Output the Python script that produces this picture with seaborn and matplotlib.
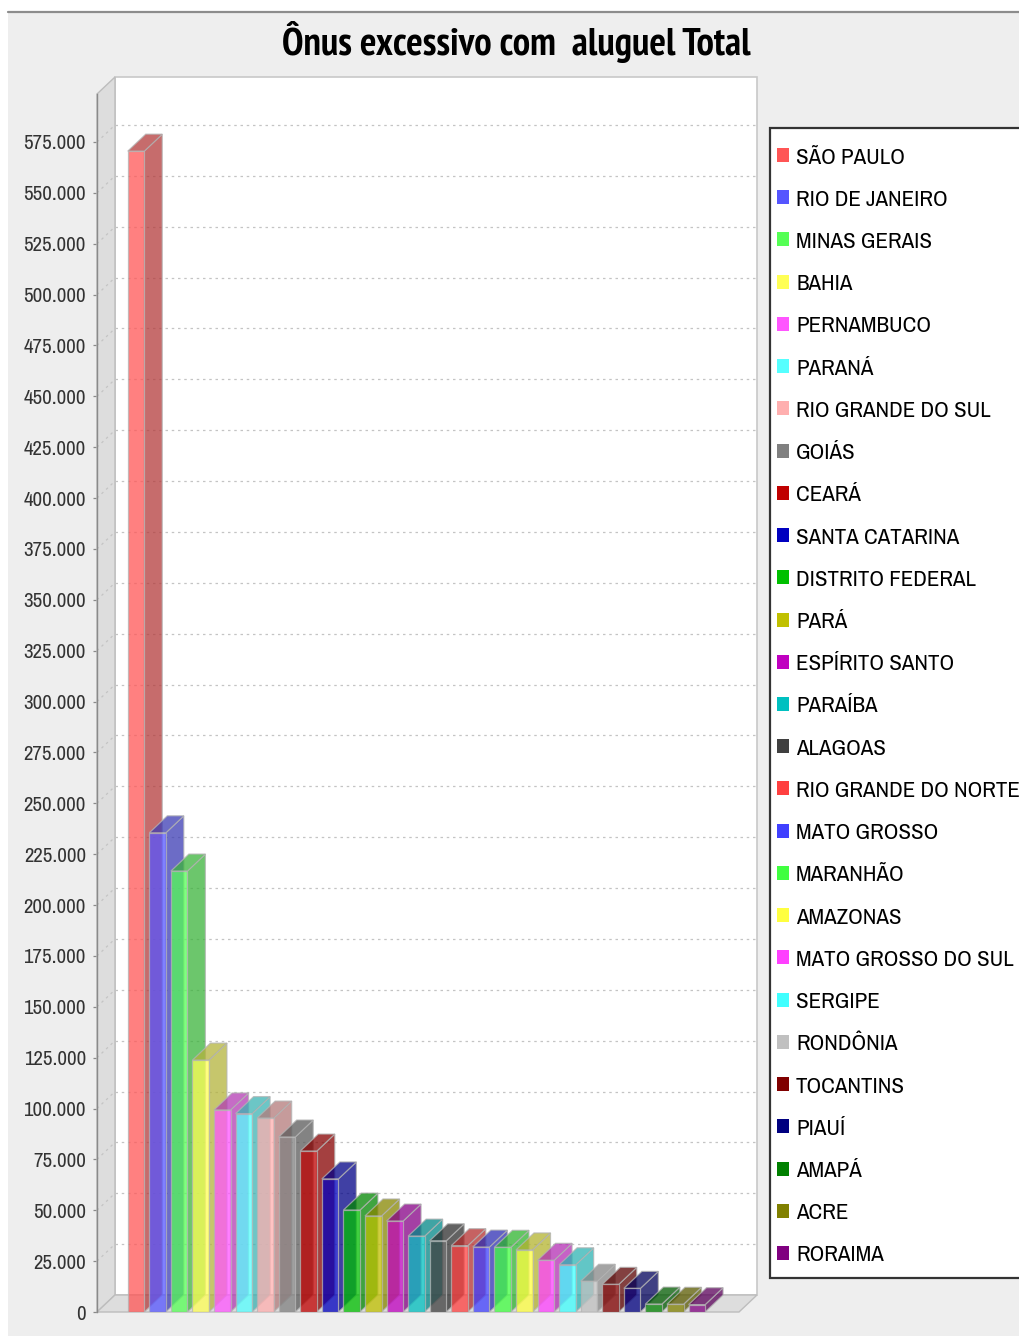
import numpy as np
import pandas as pd
import matplotlib
matplotlib.use("Agg")
import matplotlib.pyplot as plt
import seaborn as sns
from matplotlib.patches import Polygon, Rectangle
from matplotlib.lines import Line2D
from matplotlib.colors import to_rgb

# ---------------- data ----------------
states = ["SÃO PAULO", "RIO DE JANEIRO", "MINAS GERAIS", "BAHIA", "PERNAMBUCO",
          "PARANÁ", "RIO GRANDE DO SUL", "GOIÁS", "CEARÁ", "SANTA CATARINA",
          "DISTRITO FEDERAL", "PARÁ", "ESPÍRITO SANTO", "PARAÍBA", "ALAGOAS",
          "RIO GRANDE DO NORTE", "MATO GROSSO", "MARANHÃO", "AMAZONAS",
          "MATO GROSSO DO SUL", "SERGIPE", "RONDÔNIA", "TOCANTINS", "PIAUÍ",
          "AMAPÁ", "ACRE", "RORAIMA"]
values = [570500, 235500, 216700, 123800, 99300,
          97500, 95300, 86000, 79100, 65400,
          50100, 47200, 44700, 37300, 35000,
          32600, 31900, 31800, 30500,
          25400, 23200, 15100, 13600, 11600,
          3900, 3800, 3600]
colors = ["#FF5555", "#5555FF", "#55FF55", "#FFFF55", "#FF55FF", "#55FFFF",
          "#FFAFAF", "#808080", "#C00000", "#0000C0", "#00C000", "#C0C000",
          "#C000C0", "#00C0C0", "#404040", "#FF4040", "#4040FF", "#40FF40",
          "#FFFF40", "#FF40FF", "#40FFFF", "#C0C0C0", "#800000", "#000080",
          "#008000", "#808000", "#800080"]
yticks = list(range(0, 575001, 25000))
ytick_labels = [f"{v:,}".replace(",", ".") for v in yticks]
title = "Ônus excessivo com  aluguel Total"

df = pd.DataFrame({"estado": states, "valor": values})

# ---------------- style ----------------
sns.set_style("white")
FONT = ["Archivo Narrow", "PT Sans Narrow", "Liberation Sans", "DejaVu Sans"]
TITLE_FONT = ["PT Sans Narrow", "Archivo Narrow", "Liberation Sans", "DejaVu Sans"]
plt.rcParams["font.family"] = FONT

W, H = 1019, 1336
fig = plt.figure(figsize=(W / 100, H / 100), dpi=100, facecolor="white")

# outer panel
fig.patches.append(Rectangle((8 / W, 0), 1, (H - 11) / H, transform=fig.transFigure,
                             facecolor="#EEEEEE", edgecolor="none", zorder=-10))
fig.add_artist(Line2D([8 / W, 1], [(H - 11.5) / H] * 2, color="#8c8c8c", lw=1.6,
                      transform=fig.transFigure, zorder=-5))

ax = fig.add_axes([97 / W, 24 / H, 660 / W, 1235 / H])
ax.set_zorder(1)
ax.patch.set_alpha(0)

ALPHA = 0.75
BAR_W = 0.765
EDGE = "#b4b4b4"

sns.barplot(data=df, x="estado", y="valor", hue="estado", palette=colors,
            saturation=1, width=BAR_W, alpha=ALPHA, edgecolor=EDGE, linewidth=0.9,
            legend=False, ax=ax, zorder=3)

x0, x1 = -1.808, 28.79
ymax = 606940
ax.set_xlim(x0, x1)
ax.set_ylim(0, ymax)
dx = 18 * (x1 - x0) / 660
dy = 17 * ymax / 1235

# walls of the 3D box
ax.add_patch(Rectangle((x0 + dx, dy), x1 - (x0 + dx), ymax - dy, facecolor="white",
                       edgecolor="#c8c8c8", lw=1.2, zorder=0.5, clip_on=False))
ax.add_patch(Polygon([(x0, 0), (x0 + dx, dy), (x0 + dx, ymax), (x0, ymax - dy)],
                     closed=True, facecolor="#DDDDDD", edgecolor="#bdbdbd", lw=1.0,
                     zorder=0.6, clip_on=False))
ax.add_patch(Polygon([(x0, 0), (x1 - dx, 0), (x1, dy), (x0 + dx, dy)],
                     closed=True, facecolor="#DDDDDD", edgecolor="#bdbdbd", lw=1.0,
                     zorder=0.6, clip_on=False))

# gridlines on back wall and left wall
for v in yticks[1:]:
    ax.plot([x0 + dx, x1 - 0.1], [v + dy] * 2, ls=(0, (2.0, 3.0)), color="#c4c4c4",
            lw=0.9, zorder=1)
    ax.plot([x0, x0 + dx], [v, v + dy], ls=(0, (2.0, 3.0)), color="#c4c4c4",
            lw=0.9, zorder=1)

# 3D side and top faces of each bar
for i, (v, c) in enumerate(zip(values, colors)):
    dark = tuple(0.7 * np.array(to_rgb(c)))
    xl, xr = i - BAR_W / 2, i + BAR_W / 2
    side = [(xr, 0), (xr + dx, dy), (xr + dx, v + dy), (xr, v)]
    top = [(xl, v), (xr, v), (xr + dx, v + dy), (xl + dx, v + dy)]
    for poly in (side, top):
        ax.add_patch(Polygon(poly, closed=True, facecolor=dark, alpha=ALPHA,
                             edgecolor=EDGE, lw=0.9, zorder=2 + i * 0.01))

for s in ("top", "right", "bottom"):
    ax.spines[s].set_visible(False)
ax.spines["left"].set_color("#8a8a8a")
ax.spines["left"].set_linewidth(1.0)
ax.spines["left"].set_bounds(0, ymax - dy)
ax.set_xticks([])
ax.set_yticks(yticks)
ax.set_yticklabels(ytick_labels, fontsize=15, color="#333333")
ax.tick_params(axis="y", length=3, width=0.9, color="#8a8a8a", pad=5, left=True)
ax.set_xlabel("")
ax.set_ylabel("")

# title
fig.text(516 / W, (H - 55) / H, title, ha="center", va="baseline", fontsize=28,
         fontweight="bold", family=TITLE_FONT, color="black")

# legend
fig.patches.append(Rectangle((770 / W, (H - 1278) / H), 300 / W, 1150 / H,
                             transform=fig.transFigure, facecolor="white",
                             edgecolor="#333333", lw=1.6, zorder=1))
for i, (name, c) in enumerate(zip(states, colors)):
    yc = 155 + i * 42.23
    fig.patches.append(Rectangle((777 / W, (H - yc - 7) / H), 12 / W, 14 / H,
                                 transform=fig.transFigure, facecolor=c,
                                 edgecolor="none", zorder=2))
    fig.text(796 / W, (H - yc - 8.5) / H, name, ha="left", va="baseline",
             fontsize=16.5, color="black", zorder=3)

fig.savefig("out.png", dpi=100, facecolor=fig.get_facecolor())
